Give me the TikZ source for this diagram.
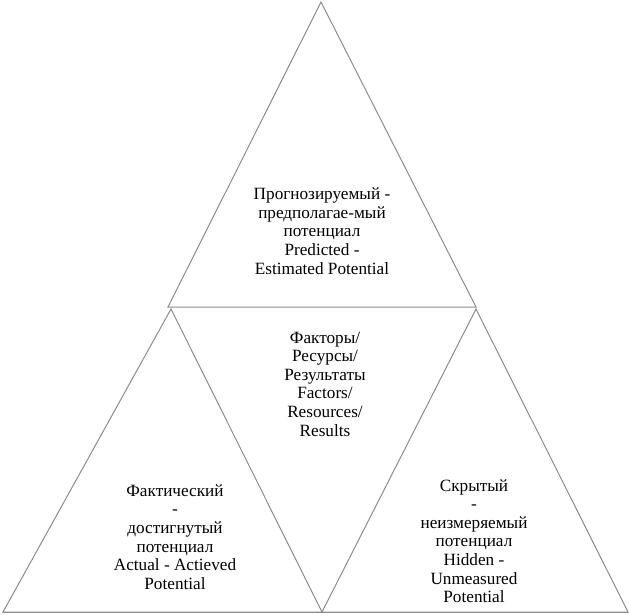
\documentclass[tikz,border=0pt]{standalone}
\usepackage{fontspec}
\setmainfont{Liberation Serif}
\begin{document}
\begin{tikzpicture}[x=1pt,y=-1pt,
  edge/.style={draw=black!45, line width=1pt, line join=miter},
  lbl/.style={align=center, font=\fontsize{17.2}{18.6}\selectfont, inner sep=0pt}]
\useasboundingbox (0,0) rectangle (629,615);
% coordinates
\coordinate (tA) at (321,2);
\coordinate (tL) at (168,307);
\coordinate (tR) at (476,307);
\coordinate (lA) at (171,309);
\coordinate (lL) at (3,612);
\coordinate (mB) at (322,612);
\coordinate (rA) at (476,309);
\coordinate (rR) at (628,612);
% triangles
\draw[edge] (tA) -- (tL) -- (tR) -- cycle;
\draw[edge] (lA) -- (lL) -- (mB) -- cycle;
\draw[edge] (rA) -- (mB) -- (rR) -- cycle;
\draw[edge] (lL) -- (rR);
% labels
\node[lbl] (top) at (322,231) {Прогнозируемый -\\предполагае-мый\\потенциал\\Predicted -\\Estimated Potential};
\node[lbl] (mid) at (325,384) {Факторы/\\Ресурсы/\\Результаты\\Factors/\\Resources/\\Results};
\node[lbl] (left) at (175,537) {Фактический\\-\\достигнутый\\потенциал\\Actual - Actieved\\Potential};
\node[lbl] (right) at (474,541) {Скрытый\\-\\неизмеряемый\\потенциал\\Hidden -\\Unmeasured\\Potential};
\end{tikzpicture}
\end{document}
